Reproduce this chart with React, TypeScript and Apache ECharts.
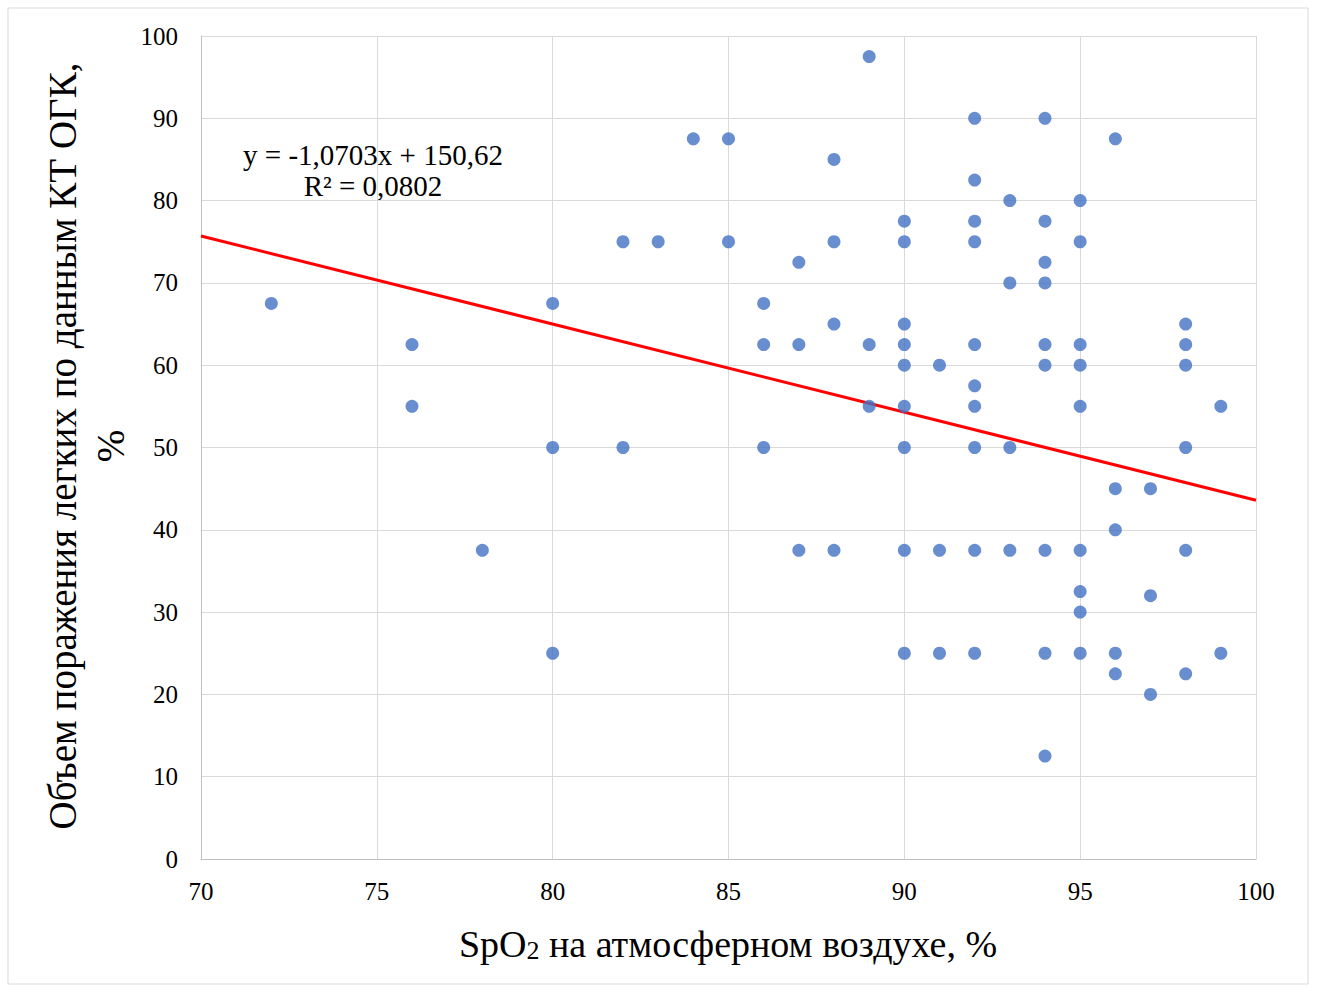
import React, { useEffect, useRef } from "react";
import * as echarts from "echarts";

const spo2: number[] = [
  72, 76, 76, 78, 80, 80, 80, 82, 82, 83, 84, 85, 85, 86, 86, 86, 87, 87, 87,
  88, 88, 88, 88, 89, 89, 89, 90, 90, 90, 90, 90, 90, 90, 90, 90, 91, 91, 91,
  92, 92, 92, 92, 92, 92, 92, 92, 92, 92, 93, 93, 93, 93, 94, 94, 94, 94, 94,
  94, 94, 94, 94, 95, 95, 95, 95, 95, 95, 95, 95, 95, 96, 96, 96, 96, 96, 97,
  97, 97, 98, 98, 98, 98, 98, 98, 99, 99,
];
const lesion: number[] = [
  67.5, 62.5, 55, 37.5, 67.5, 50, 25, 75, 50, 75, 87.5, 87.5, 75, 67.5, 62.5, 50, 72.5, 62.5, 37.5,
  85, 75, 65, 37.5, 97.5, 62.5, 55, 77.5, 75, 65, 62.5, 60, 55, 50, 37.5, 25, 60, 37.5, 25,
  90, 82.5, 77.5, 75, 62.5, 57.5, 55, 50, 37.5, 25, 80, 70, 50, 37.5, 90, 77.5, 72.5, 70, 62.5,
  60, 37.5, 25, 12.5, 80, 75, 62.5, 60, 55, 37.5, 32.5, 30, 25, 87.5, 45, 40, 25, 22.5, 45,
  32, 20, 65, 62.5, 60, 50, 37.5, 22.5, 55, 25,
];
const trendSlope = -1.0703;
const trendIntercept = 150.62;
const trendX: number[] = [70, 100];
const equationText = "y = -1,0703x + 150,62";
const r2Text = "R² = 0,0802";
const yTitle = "Объем поражения легких по данным КТ ОГК,\n%";

export default function App() {
  const ref = useRef<HTMLDivElement>(null);
  useEffect(() => {
    if (!ref.current) return;
    const chart = echarts.init(ref.current, null, { renderer: "svg" });
    const font = "'Liberation Serif', 'Times New Roman', serif";
    const points = spo2.map((x, i) => [x, lesion[i]]);
    const trend = trendX.map((x) => [x, trendSlope * x + trendIntercept]);
    chart.setOption({
      animation: false,
      backgroundColor: "#ffffff",
      grid: { left: 201, right: 61, top: 36, bottom: 130, containLabel: false },
      xAxis: {
        type: "value",
        min: 70,
        max: 100,
        interval: 5,
        axisLine: { show: true, lineStyle: { color: "#bfbfbf", width: 1 } },
        axisTick: { show: false },
        axisLabel: { color: "#000", fontFamily: font, fontSize: 25, margin: 20 },
        splitLine: { show: true, lineStyle: { color: "#d9d9d9", width: 1 } },
      },
      yAxis: {
        type: "value",
        min: 0,
        max: 100,
        interval: 10,
        axisLine: { show: true, lineStyle: { color: "#bfbfbf", width: 1 } },
        axisTick: { show: false },
        axisLabel: { color: "#000", fontFamily: font, fontSize: 25, margin: 23 },
        splitLine: { show: true, lineStyle: { color: "#d9d9d9", width: 1 } },
      },
      series: [
        {
          type: "scatter",
          data: points,
          symbol: "circle",
          symbolSize: 13,
          itemStyle: { color: "#4472C4" },
          z: 3,
        },
        {
          type: "line",
          data: trend,
          showSymbol: false,
          symbol: "none",
          lineStyle: { color: "#ff0000", width: 3 },
          z: 2,
        },
      ],
      graphic: [
        {
          type: "rect",
          shape: { x: 8, y: 8, width: 1300, height: 976 },
          style: { fill: "none", stroke: "#d9d9d9", lineWidth: 1 },
          silent: true,
          z: -1,
        },
        {
          type: "text",
          x: 373,
          y: 155,
          style: {
            text: equationText,
            fontFamily: font,
            fontSize: 29,
            fill: "#000",
            textAlign: "center",
            textVerticalAlign: "middle",
          },
        },
        {
          type: "text",
          x: 373,
          y: 186,
          style: {
            text: r2Text,
            fontFamily: font,
            fontSize: 29,
            fill: "#000",
            textAlign: "center",
            textVerticalAlign: "middle",
          },
        },
        {
          type: "text",
          x: 86,
          y: 446,
          rotation: Math.PI / 2,
          style: {
            text: yTitle,
            fontFamily: font,
            fontSize: 39,
            lineHeight: 48,
            fill: "#000",
            textAlign: "center",
            textVerticalAlign: "middle",
          },
        },
        {
          type: "text",
          x: 728,
          y: 940,
          style: {
            text: "{m|SpO}{s|2}{m| на атмосферном воздухе, %}",
            fontFamily: font,
            textAlign: "center",
            textVerticalAlign: "middle",
            rich: {
              m: { fontFamily: font, fontSize: 38, fill: "#000", verticalAlign: "bottom", lineHeight: 46 },
              s: { fontFamily: font, fontSize: 26, fill: "#000", verticalAlign: "bottom", lineHeight: 14 },
            },
          },
        },
      ],
    });
    return () => chart.dispose();
  }, []);
  return <div ref={ref} style={{ width: 1317, height: 989, position: "absolute", left: 0, top: 0 }} />;
}
